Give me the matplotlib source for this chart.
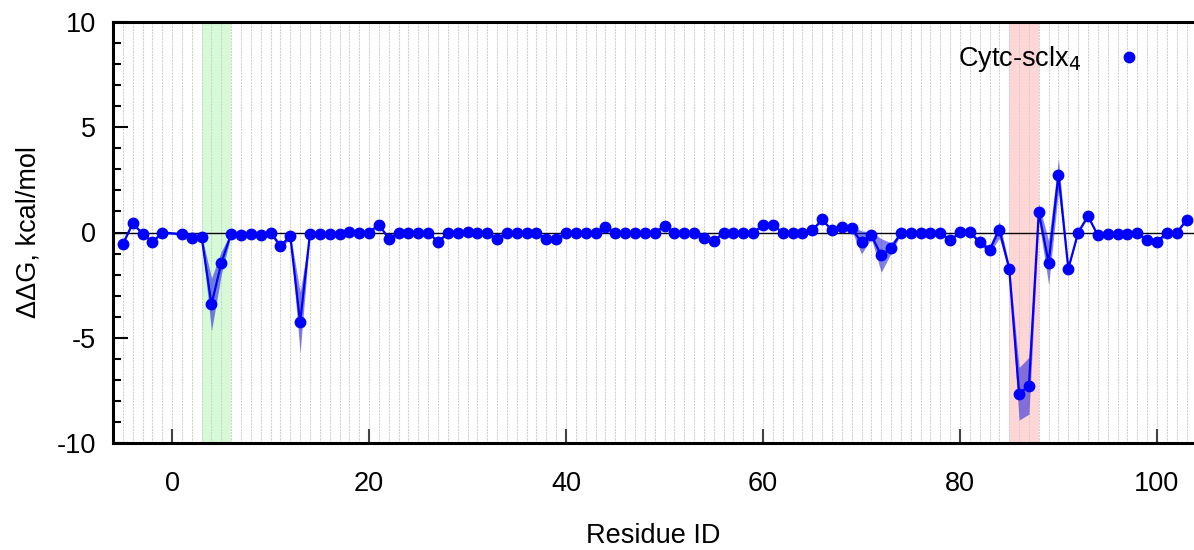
import matplotlib
matplotlib.use("Agg")
import matplotlib.pyplot as plt
import numpy as np

plt.rcParams['font.family'] = ['Liberation Sans', 'DejaVu Sans']
plt.rcParams['axes.unicode_minus'] = False

residues = [-5, -4, -3, -2, -1] + list(range(1, 104))

dG = [
    -0.55, 0.43, -0.05, -0.46, 0.00,                     # -5..-1
    -0.08, -0.28, -0.22, -3.42, -1.44, -0.05, -0.13, -0.08, -0.13, 0.00,   # 1..10
    -0.65, -0.17, -4.27, -0.05, -0.05, -0.08, -0.05, 0.02, 0.00, 0.00,     # 11..20
    0.38, -0.30, 0.00, 0.00, 0.00, 0.00, -0.44, -0.03, 0.00, 0.03,         # 21..30
    0.00, 0.00, -0.32, 0.00, 0.00, 0.00, 0.00, -0.30, -0.30, -0.03,        # 31..40
    0.00, 0.00, 0.00, 0.28, 0.00, 0.00, 0.00, 0.00, 0.00, 0.30,            # 41..50
    0.00, 0.00, 0.00, -0.28, -0.41, 0.00, 0.00, 0.00, 0.00, 0.35,          # 51..60
    0.35, 0.00, 0.00, 0.00, 0.10, 0.62, 0.10, 0.27, 0.20, -0.47,           # 61..70
    -0.13, -1.09, -0.74, -0.03, 0.00, 0.00, 0.00, 0.00, -0.38, 0.02,       # 71..80
    0.02, -0.47, -0.82, 0.13, -1.72, -7.66, -7.28, 0.97, -1.44, 2.74,      # 81..90
    -1.72, 0.00, 0.78, -0.14, -0.06, -0.06, -0.06, -0.03, -0.35, -0.44,    # 91..100
    -0.02, -0.02, 0.60,                                                     # 101..103
]

dG_err = [
    0.05, 0.05, 0.05, 0.05, 0.05,
    0.05, 0.10, 0.10, 1.25, 0.55, 0.05, 0.05, 0.05, 0.05, 0.05,
    0.15, 0.10, 1.45, 0.05, 0.05, 0.05, 0.05, 0.05, 0.05, 0.05,
    0.05, 0.05, 0.05, 0.05, 0.05, 0.05, 0.05, 0.05, 0.05, 0.05,
    0.05, 0.05, 0.05, 0.05, 0.05, 0.05, 0.05, 0.05, 0.05, 0.05,
    0.05, 0.05, 0.05, 0.05, 0.05, 0.05, 0.05, 0.05, 0.05, 0.05,
    0.05, 0.05, 0.05, 0.05, 0.05, 0.05, 0.05, 0.05, 0.05, 0.05,
    0.05, 0.05, 0.05, 0.05, 0.05, 0.05, 0.05, 0.05, 0.10, 0.55,
    0.15, 0.80, 0.25, 0.05, 0.05, 0.05, 0.05, 0.05, 0.05, 0.05,
    0.05, 0.12, 0.15, 0.40, 0.15, 1.25, 1.35, 0.40, 1.05, 0.75,
    0.05, 0.05, 0.05, 0.05, 0.05, 0.05, 0.05, 0.05, 0.10, 0.15,
    0.05, 0.05, 0.05,
]

green_span = (3, 6)
red_span = (85, 88)
series_label = r'Cytc-sclx$_4$'

x = np.array(residues, dtype=float)
y = np.array(dG)
e = np.array(dG_err)

FS = 19.5

fig = plt.figure(figsize=(11.94, 5.5), dpi=100)
ax = fig.add_axes([113/1194, 1-443/550, 1-113/1194, (443-22)/550])

ax.axvspan(*green_span, color='#d6fad6', zorder=0, lw=0)
ax.axvspan(*red_span, color='#ffd6d6', zorder=0, lw=0)

for xv in range(-6, 105):
    ax.axvline(xv, color='#d0d0d0', lw=0.75, ls=(0, (2, 1)), zorder=0.5)

ax.axhline(0, color='black', lw=1.0, zorder=1)

ax.fill_between(x, y - e, y + e, color='#1a1ad8', alpha=0.55, lw=0, zorder=2)
ax.plot(x, y, color='#0000ff', lw=1.6, marker='o', ms=7.5, mfc='#0000ff', mec='#0000ff',
        zorder=3, label=series_label)

ax.set_xlim(-6, 103.76)
ax.set_ylim(-10, 10)

ax.set_xticks([0, 20, 40, 60, 80, 100])
ax.set_yticks([-10, -5, 0, 5, 10])
ax.set_yticks(np.arange(-10, 11, 1), minor=True)
ax.tick_params(axis='x', direction='in', length=10, width=1.5, color='#444444',
               labelsize=FS, pad=20)
ax.tick_params(axis='y', which='major', direction='in', length=11, width=1.5,
               labelsize=FS, pad=12)
ax.tick_params(axis='y', which='minor', direction='in', length=6, width=1.5)
ax.tick_params(axis='x', which='minor', bottom=False)

for side in ['left', 'bottom', 'top']:
    ax.spines[side].set_linewidth(2.2)
ax.spines['right'].set_visible(False)

ax.set_xlabel('Residue ID', fontsize=FS, labelpad=19)
ax.set_ylabel('ΔΔG, kcal/mol', fontsize=FS, labelpad=11)

h, l = ax.get_legend_handles_labels()
leg = ax.legend([h[0]], [l[0]], markerfirst=False, frameon=False, fontsize=FS,
                loc='center right', bbox_to_anchor=(1137/1194, 1-59/550),
                bbox_transform=fig.transFigure, handlelength=0.6, handletextpad=1.45,
                borderpad=0, borderaxespad=0)
for lh in leg.legend_handles:
    lh.set_linestyle('none')

fig.savefig('out.png', dpi=100)
